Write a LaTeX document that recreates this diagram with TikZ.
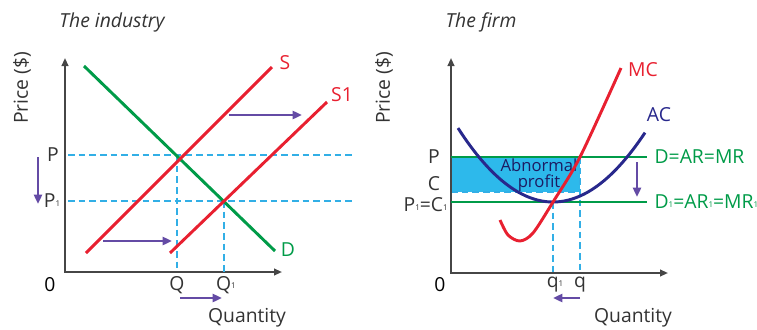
\documentclass[tikz,border=0pt]{standalone}
\usepackage{fontspec}
\setmainfont{Open Sans}
\usetikzlibrary{arrows.meta}
\definecolor{supred}{RGB}{232,32,48}
\definecolor{demgreen}{RGB}{0,155,72}
\definecolor{acnavy}{RGB}{40,40,140}
\definecolor{guidecyan}{RGB}{50,175,230}
\definecolor{profitcyan}{RGB}{45,185,235}
\definecolor{movepurple}{RGB}{100,75,165}
\definecolor{axisgray}{RGB}{70,70,70}
\newcommand{\tinysub}[1]{\raisebox{0.15ex}{\fontsize{6}{6}\selectfont #1}}
\tikzset{
  axisline/.style={draw=axisgray, line width=1.4pt, {Triangle[length=6pt,width=5pt]}-{Triangle[length=6pt,width=5pt]}},
  econcurve/.style={line width=2.2pt},
  guideline/.style={draw=guidecyan, line width=1.1pt, dash pattern=on 5pt off 3pt},
  movearrow/.style={draw=movepurple, line width=2pt, -{Triangle[length=7pt,width=6pt]}},
  lbl/.style={text=black!80, inner sep=1pt},
}

\begin{document}
\begin{tikzpicture}[x=0.75pt, y=-0.75pt, font=\fontsize{14.5}{16}\selectfont]
  \useasboundingbox (0,0) rectangle (757,329);
  % the industry
  \node[lbl] (tind) at (112,22) {\itshape The industry};
  \coordinate (O1) at (65,272);
  \coordinate (Y1) at (65,58);
  \coordinate (X1) at (282,272);
  \draw[axisline] (Y1) -- (O1) -- (X1);
  \node[lbl, rotate=90] (price1) at (22,88) {Price (\$)};
  \node[text=black] (zero1) at (50,285) {0};
  \node[lbl] (qty1) at (247,318) {Quantity};
  \coordinate (PL) at (68,155);
  \coordinate (PR) at (353,155);
  \coordinate (P1L) at (68,201);
  \coordinate (P1R) at (355,201);
  \coordinate (E) at (177,155);
  \coordinate (E1) at (224,201);
  \coordinate (Qb) at (177,272);
  \coordinate (Q1b) at (224,272);
  \draw[guideline] (PL) -- (PR);
  \draw[guideline] (P1L) -- (P1R);
  \draw[guideline] (E) -- (Qb);
  \draw[guideline] (E1) -- (Q1b);
  \coordinate (Da) at (84,66);
  \coordinate (Db) at (275,251);
  \coordinate (Sa) at (86,253);
  \coordinate (Sb) at (272,67);
  \coordinate (S1a) at (170,253);
  \coordinate (S1b) at (327,102);
  \draw[econcurve, demgreen] (Da) -- (Db);
  \draw[econcurve, supred] (Sa) -- (Sb);
  \draw[econcurve, supred] (S1a) -- (S1b);
  \node[text=supred] (lS) at (285,63) {S};
  \node[text=supred] (lS1) at (342,95) {S1};
  \node[text=demgreen] (lD) at (288,250) {D};
  \node[lbl] (lP) at (53,155) {P};
  \node[lbl] (lP1) at (52,201) {P\tinysub{1}};
  \node[lbl] (lQ) at (177,285) {Q};
  \node[lbl] (lQ1) at (226,285) {Q\tinysub{1}};
  % shifts
  \coordinate (m1a) at (229,115);
  \coordinate (m1b) at (302,115);
  \coordinate (m2a) at (103,241);
  \coordinate (m2b) at (172,241);
  \coordinate (m3a) at (38,157);
  \coordinate (m3b) at (38,204);
  \coordinate (m4a) at (180,298);
  \coordinate (m4b) at (222,298);
  \draw[movearrow] (m1a) -- (m1b);
  \draw[movearrow] (m2a) -- (m2b);
  \draw[movearrow] (m3a) -- (m3b);
  \draw[movearrow] (m4a) -- (m4b);

  % the firm
  \node[lbl] (tfirm) at (481,22) {\itshape The firm};
  \coordinate (O2) at (451,273);
  \coordinate (Y2) at (451,58);
  \coordinate (X2) at (668,273);
  \fill[profitcyan] (451,157) rectangle (580,192);
  \coordinate (Cl) at (451,192);
  \coordinate (Cr) at (580,192);
  \coordinate (qt) at (580,157);
  \coordinate (qb) at (580,273);
  \coordinate (q1t) at (553,202);
  \coordinate (q1b) at (553,273);
  \draw[guideline] (Cl) -- (Cr);
  \draw[guideline] (qt) -- (qb);
  \draw[guideline] (q1t) -- (q1b);
  \node[text=acnavy!70!black, align=center, font=\fontsize{12.5}{12.5}\selectfont] (abn) at (539,175) {Abnormal\\profit};
  \draw[axisline] (Y2) -- (O2) -- (X2);
  \node[lbl, rotate=90] (price2) at (384,88) {Price (\$)};
  \node[text=black] (zero2) at (440,285) {0};
  \node[lbl] (qty2) at (633,318) {Quantity};
  \coordinate (ARl) at (451,157);
  \coordinate (ARr) at (647,157);
  \coordinate (AR1l) at (451,202);
  \coordinate (AR1r) at (647,202);
  \draw[econcurve, demgreen] (ARl) -- (ARr);
  \draw[econcurve, demgreen] (AR1l) -- (AR1r);
  \draw[econcurve, acnavy, domain=458:645, samples=60] plot (\x, {202-0.0082*(\x-553)^2});
  \draw[econcurve, supred] plot[smooth] coordinates {(500,220) (508,235) (520,241) (533,233) (553,202) (580,157) (621,68)};
  \node[text=supred] (lMC) at (643,70) {MC};
  \node[text=acnavy] (lAC) at (659,115) {AC};
  \node[text=demgreen, anchor=west, inner sep=1pt] (lD) at (653,157) {D=AR=MR};
  \node[text=demgreen, anchor=west, inner sep=1pt] (lD1) at (653,202) {D\tinysub{1}=AR\tinysub{1}=MR\tinysub{1}};
  \node[lbl] (fP) at (434,157) {P};
  \node[lbl, inner sep=0pt] (fC) at (434,184) {C};
  \node[lbl, anchor=east, inner sep=0pt] (fP1) at (448,205) {P\tinysub{1}=C\tinysub{1}};
  \node[lbl] (fq1) at (555,285) {q\tinysub{1}};
  \node[lbl] (fq) at (580,285) {q};
  \coordinate (m5a) at (580,298);
  \coordinate (m5b) at (553,298);
  \coordinate (m6a) at (637,162);
  \coordinate (m6b) at (637,197);
  \draw[movearrow] (m5a) -- (m5b);
  \draw[movearrow] (m6a) -- (m6b);
\end{tikzpicture}
\end{document}
